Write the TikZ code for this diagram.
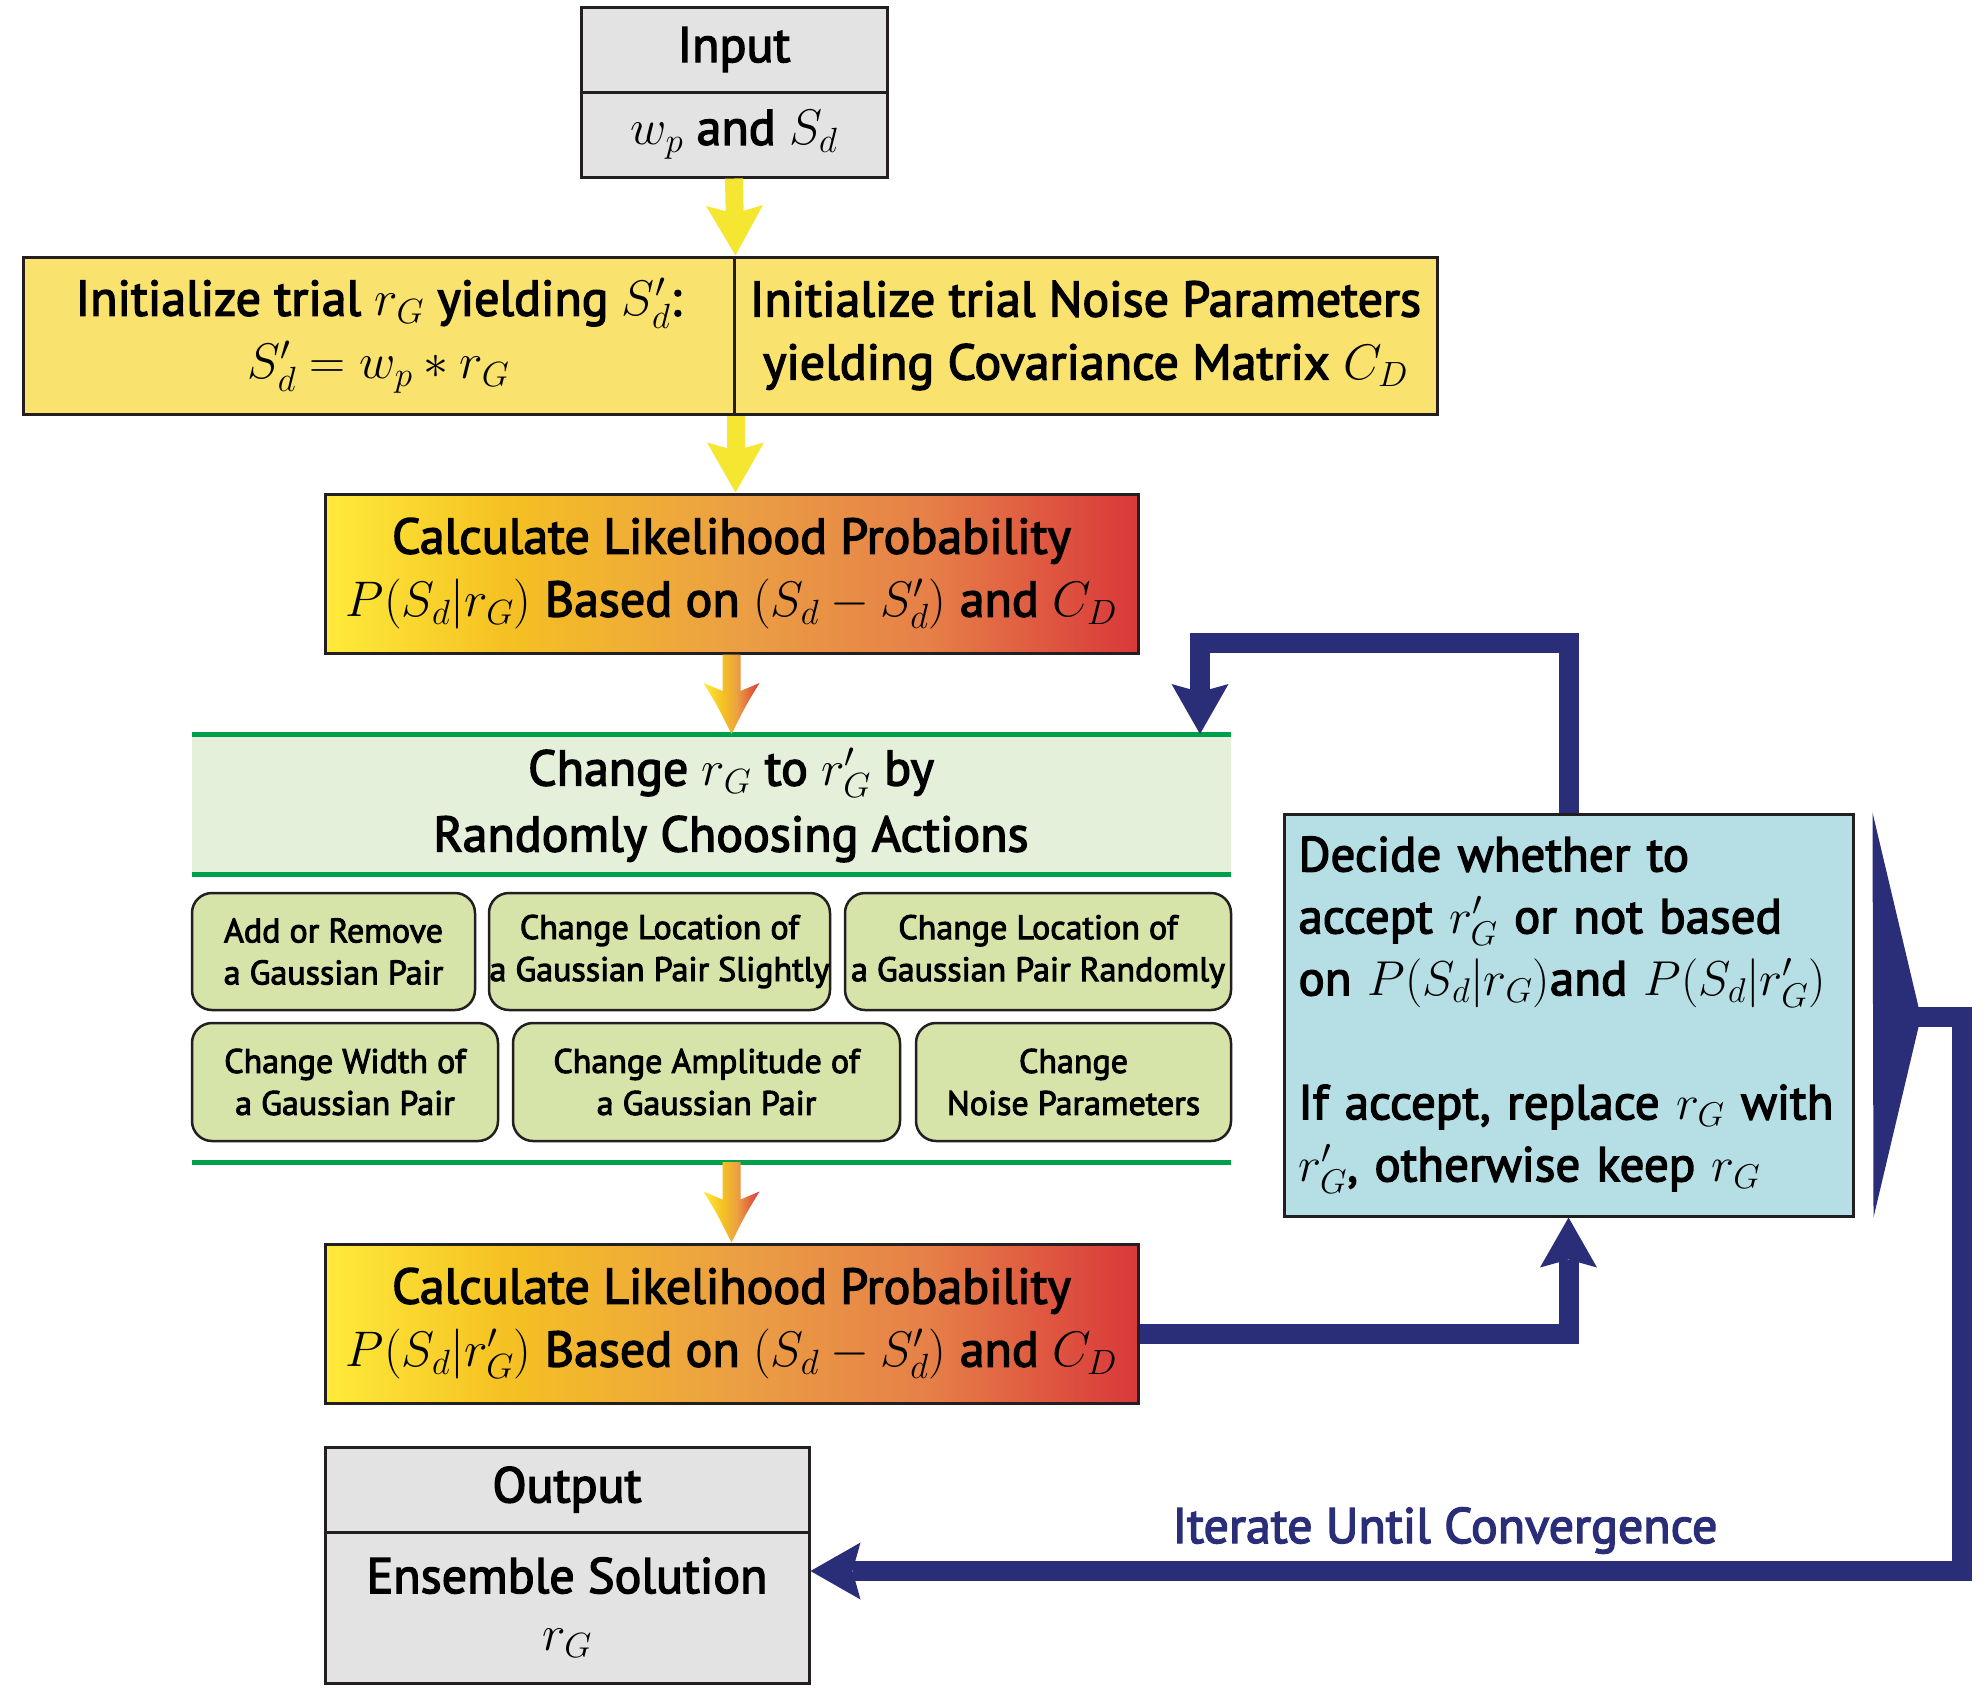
\RequirePackage{fix-cm}
\documentclass[tikz,border=0pt]{standalone}
\usepackage{fontspec}
\setmainfont{PT Sans}[FakeBold=2.8]
\usetikzlibrary{arrows.meta,calc}

\definecolor{navy}{HTML}{2A2D77}
\definecolor{boxgray}{HTML}{E3E3E3}
\definecolor{inityel}{HTML}{F9E26E}
\definecolor{arrowyel}{HTML}{F5E631}
\definecolor{bandgreen}{HTML}{E4F0D9}
\definecolor{linegreen}{HTML}{00A04A}
\definecolor{actgreen}{HTML}{D6E3A9}
\definecolor{decideblue}{HTML}{B5DFE4}
\definecolor{edgecol}{HTML}{231F20}
\definecolor{gY}{HTML}{FFEB3B}
\definecolor{gG}{HTML}{F5C122}
\definecolor{gO}{HTML}{EBA043}
\definecolor{gOt}{HTML}{E68048}
\definecolor{gR}{HTML}{D9383A}

\pgfdeclarehorizontalshading{calcshade}{100bp}{color(0bp)=(gY); color(25bp)=(gY); color(36bp)=(gG); color(50bp)=(gO); color(62bp)=(gOt); color(75bp)=(gR); color(100bp)=(gR)}
\pgfdeclarehorizontalshading{arrowshade}{100bp}{color(0bp)=(gY); color(25bp)=(gY); color(42bp)=(gG); color(55bp)=(gO); color(75bp)=(gR); color(100bp)=(gR)}

\newcommand\mainsz{\fontsize{50}{63}\selectfont}
\newcommand\actsz{\fontsize{34}{42}\selectfont}
\newcommand\decsz{\fontsize{49}{62}\selectfont}

\tikzset{
  basebox/.style={draw=edgecol, line width=3pt, inner sep=0pt, align=center, font=\mainsz},
  graybox/.style={basebox, fill=boxgray},
  initbox/.style={basebox, fill=inityel},
  calcbox/.style={basebox, shading=calcshade},
  actbox/.style={draw=edgecol, line width=2.5pt, rounded corners=20pt, fill=actgreen, inner sep=0pt, align=center, font=\actsz},
  decidebox/.style={draw=edgecol, line width=3pt, fill=decideblue, inner sep=0pt, align=left, font=\decsz},
  greenline/.style={draw=linegreen, line width=5pt},
  yelarrow/.style={draw=arrowyel, line width=18pt, -{Stealth[length=50pt, width=57pt, inset=8pt, line width=0pt]}},
  bluearrow/.style={draw=navy, line width=20pt, -{Stealth[length=50pt, width=57pt, inset=8pt, line width=0pt]}},
}

\begin{document}
\begin{tikzpicture}[x=1pt, y=-1pt]
\useasboundingbox (0,0) rectangle (1985,1687);

% Input
\node[graybox, minimum width=306pt, minimum height=85pt] (inT) at (734,49.5) {Input};
\node[graybox, minimum width=306pt, minimum height=85pt] (inB) at (734,134.5) {$w_p$ and $S_d$};

% Initialize
\node[initbox, minimum width=711pt, minimum height=157pt] (initL) at (378.5,335.5)
  {Initialize trial $r_G$ yielding $S'_d$:\\$S'_d = w_p * r_G$};
\node[initbox, minimum width=703pt, minimum height=157pt] (initR) at (1085.5,335.5)
  {Initialize trial Noise Parameters\\yielding Covariance Matrix $C_D$};

% Calc 1
\node[calcbox, minimum width=813pt, minimum height=159pt] (calcA) at (731.5,573.5)
  {Calculate Likelihood Probability\\$P(S_d|r_G)$ Based on $(S_d - S'_d)$ and $C_D$};

% Band
\coordinate (bandNW) at (192,734);
\coordinate (bandSE) at (1231,874);
\coordinate (actsSW) at (192,1162);
\coordinate (actsSE) at (1231,1162);
\fill[bandgreen] (bandNW) rectangle (bandSE);
\draw[greenline] (bandNW) -- (bandNW -| bandSE);
\draw[greenline] (bandSE -| bandNW) -- (bandSE);
\draw[greenline] (actsSW) -- (actsSE);
\node[inner sep=0pt, align=center, font=\mainsz] (bandTxt) at (731,805)
  {Change $r_G$ to $r'_G$ by\\[3pt]Randomly Choosing Actions};

% Actions
\node[actbox, minimum width=283pt, minimum height=117pt] (actA) at (333.5,951.5) {Add or Remove\\a Gaussian Pair};
\node[actbox, minimum width=341pt, minimum height=117pt] (actB) at (659.5,951.5) {Change Location of\\a Gaussian Pair Slightly};
\node[actbox, minimum width=386pt, minimum height=117pt] (actC) at (1038,951.5) {Change Location of\\a Gaussian Pair Randomly};
\node[actbox, minimum width=306pt, minimum height=118pt] (actD) at (345,1082) {Change Width of\\a Gaussian Pair};
\node[actbox, minimum width=387pt, minimum height=118pt] (actE) at (706.5,1082) {Change Amplitude of\\a Gaussian Pair};
\node[actbox, minimum width=315pt, minimum height=118pt] (actF) at (1073.5,1082) {Change\\Noise Parameters};

% Calc 2
\node[calcbox, minimum width=813pt, minimum height=159pt] (calcB) at (731.5,1323.5)
  {Calculate Likelihood Probability\\$P(S_d|r'_G)$ Based on $(S_d - S'_d)$ and $C_D$};

% Output
\node[graybox, minimum width=484pt, minimum height=85pt] (outT) at (567,1489.5) {Output};
\node[graybox, minimum width=484pt, minimum height=151pt] (outB) at (567,1607.5) {Ensemble Solution\\[-6pt]$r_G$};

% Decide
\node[decidebox, minimum width=569pt, minimum height=402pt, text width=540pt] (decide) at (1568.5,1015)
  {Decide whether to\\accept $r'_G$ or not based\\on $P(S_d|r_G)$and $P(S_d|r'_G)$\\[62pt]If accept, replace $r_G$ with\\$r'_G$, otherwise keep $r_G$};

% Yellow arrows
\draw[yelarrow] (inB.south) -- (initL.north east);
\draw[yelarrow] (initL.south east) -- (calcA.north -| initL.south east);

% Gradient arrows
\shade[shading=arrowshade] let \p1=(calcA.south), \p2=(calcA.south |- bandNW) in
  (\x1-9pt,\y1) -- (\x1-9pt,\y2+43pt) -- (\x1-28pt,\y2+51pt) .. controls (\x1-14pt,\y2+28pt) .. (\x1,\y2)
  .. controls (\x1+14pt,\y2+28pt) .. (\x1+28pt,\y2+51pt) -- (\x1+9pt,\y2+43pt) -- (\x1+9pt,\y1) -- cycle;
\shade[shading=arrowshade] let \p1=(calcB.north |- actsSW), \p2=(calcB.north) in
  (\x1-9pt,\y1) -- (\x1-9pt,\y2+43pt) -- (\x1-28pt,\y2+51pt) .. controls (\x1-14pt,\y2+28pt) .. (\x1,\y2)
  .. controls (\x1+14pt,\y2+28pt) .. (\x1+28pt,\y2+51pt) -- (\x1+9pt,\y2+43pt) -- (\x1+9pt,\y1) -- cycle;

% Blue connectors
\coordinate (loopTop) at (1200,643);
\draw[bluearrow] (decide.north) |- (loopTop) -- (loopTop |- bandNW);
\draw[bluearrow] ($(calcB.east)+(0,10)$) -| (decide.south);

% Merge triangle
\fill[navy] ($(decide.north east)+(18,0)$) -- ($(decide.east)+(64,-8)$) -- ($(decide.east)+(64,12)$) -- ($(decide.south east)+(19,0)$) -- cycle;
\coordinate (apex) at ($(decide.east)+(62,2)$);
\coordinate (iterCorner) at (1962,1571);
\coordinate (iterEnd) at (outB.east |- iterCorner);
\draw[bluearrow] (apex) -| (iterCorner) -- (iterEnd);
\node[anchor=base, font=\mainsz, text=navy, inner sep=0pt] (iterLbl) at (1445,1543) {Iterate Until Convergence};

\end{tikzpicture}
\end{document}
